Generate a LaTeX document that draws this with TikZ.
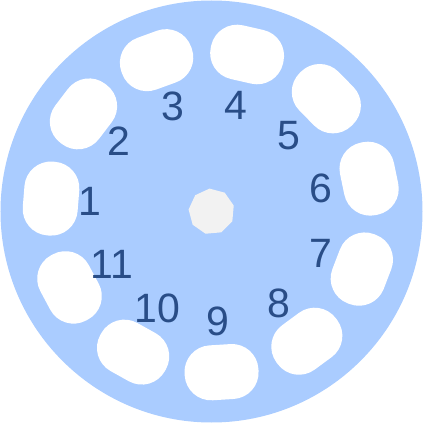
\documentclass[tikz,border=0pt]{standalone}
\usepackage{fontspec}
\setmainfont{Liberation Sans}
\usetikzlibrary{shapes.geometric}
\definecolor{discblue}{RGB}{170,204,255}
\definecolor{numblue}{RGB}{41,77,135}
\definecolor{hubgray}{RGB}{242,242,242}

\begin{document}
\begin{tikzpicture}[x=1pt,y=1pt,inner sep=0pt]
		\tikzstyle{slot}=[rectangle,fill=white,minimum width=55pt,minimum height=74pt,rounded corners=26.5pt]
		\tikzstyle{num}=[text=numblue,font=\fontsize{41}{48}\selectfont]
		\useasboundingbox (-211.5,-211.5) rectangle (211.5,211.5);
		\node[circle,fill=discblue,minimum size=422pt] (disc) at (0,0) {};
		\node[regular polygon,regular polygon sides=9,fill=hubgray,minimum size=46pt,rotate=5] (hub) at (0,0) {};
		\foreach \i/\r in {1/122,2/116,3/112,4/109,5/108,6/112,7/117,8/114,9/110,10/111,11/113}{
			\pgfmathsetmacro{\ang}{175.4-(\i-1)*32.727}
			\node[slot,rotate=\ang] (s\i) at (\ang:161) {};
			\node[num] (n\i) at (\ang:\r) {\i};
		}
\end{tikzpicture}
\end{document}
